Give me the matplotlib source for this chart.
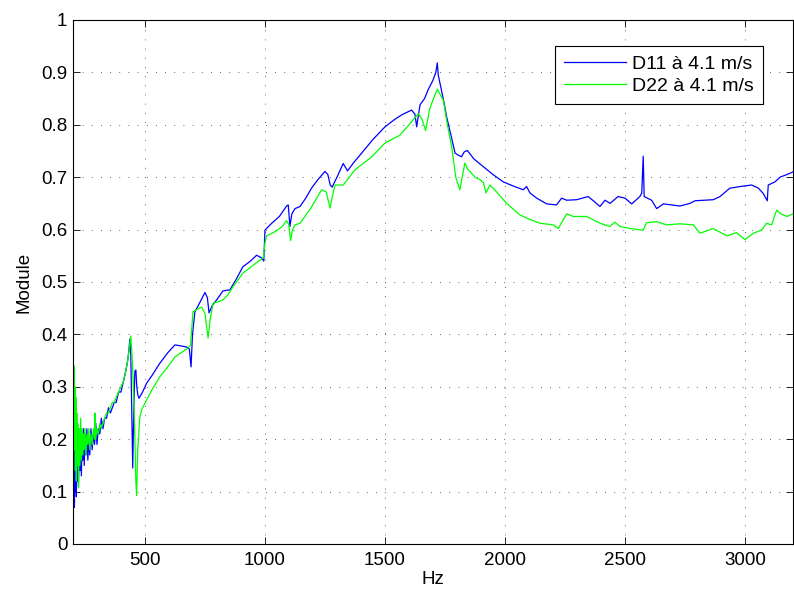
import matplotlib
matplotlib.use("Agg")
import matplotlib.pyplot as plt

plt.rcParams['font.family'] = ['Liberation Sans', 'DejaVu Sans']

# D11 at 4.1 m/s
d11_hz = [200, 202, 204, 206, 208, 210, 212, 214, 216, 218, 220, 223, 226, 229, 232, 235, 238, 241,
          244, 247, 250, 254, 258, 262, 266, 270, 275, 280, 285, 290, 295, 300, 306, 312, 318, 325,
          332, 340, 348, 356, 364, 372, 380, 390, 400, 410, 420, 428, 433, 437, 441, 445, 449, 453,
          458, 462, 466, 470, 475, 490, 507, 530, 562, 595, 625, 650, 673, 685, 692, 698, 708, 730,
          750, 760, 767, 780, 799, 825, 854, 880, 908, 940, 965, 986, 995, 1000, 1028, 1060, 1090,
          1097, 1104, 1112, 1125, 1146, 1170, 1194, 1220, 1250, 1262, 1272, 1280, 1300, 1326, 1344,
          1370, 1403, 1450, 1500, 1540, 1570, 1611, 1625, 1632, 1640, 1646, 1665, 1679, 1700, 1712,
          1718, 1722, 1729, 1745, 1757, 1775, 1792, 1805, 1819, 1830, 1843, 1870, 1910, 1950, 1993,
          2035, 2076, 2090, 2104, 2132, 2174, 2215, 2236, 2257, 2299, 2347, 2368, 2396, 2417, 2438,
          2471, 2500, 2528, 2562, 2570, 2576, 2580, 2611, 2632, 2660, 2729, 2771, 2792, 2868, 2896,
          2937, 2993, 3028, 3056, 3076, 3093, 3097, 3125, 3146, 3175, 3200]
d11_val = [0.22, 0.08, 0.19, 0.07, 0.17, 0.10, 0.21, 0.09, 0.18, 0.12, 0.20, 0.11, 0.19, 0.14, 0.22, 0.13,
           0.20, 0.16, 0.22, 0.15, 0.21, 0.17, 0.22, 0.16, 0.20, 0.17, 0.22, 0.18, 0.21, 0.19, 0.23, 0.19,
           0.22, 0.21, 0.24, 0.22, 0.24, 0.24, 0.26, 0.25, 0.26, 0.27, 0.27, 0.29, 0.29, 0.31, 0.33, 0.35,
           0.37, 0.391, 0.36, 0.25, 0.145, 0.25, 0.33, 0.332, 0.30, 0.285, 0.278, 0.29, 0.307, 0.322, 0.345,
           0.365, 0.38, 0.378, 0.376, 0.372, 0.338, 0.40, 0.443, 0.462, 0.48, 0.47, 0.441, 0.455, 0.466,
           0.483, 0.485, 0.505, 0.529, 0.54, 0.551, 0.546, 0.54, 0.599, 0.612, 0.625, 0.645, 0.647, 0.606,
           0.63, 0.64, 0.644, 0.66, 0.679, 0.695, 0.711, 0.705, 0.685, 0.681, 0.70, 0.726, 0.712, 0.728,
           0.746, 0.772, 0.796, 0.81, 0.819, 0.828, 0.82, 0.796, 0.82, 0.838, 0.85, 0.866, 0.885, 0.90,
           0.918, 0.895, 0.88, 0.845, 0.815, 0.78, 0.746, 0.742, 0.739, 0.748, 0.751, 0.735, 0.72, 0.705,
           0.691, 0.683, 0.676, 0.682, 0.67, 0.66, 0.649, 0.647, 0.66, 0.656, 0.657, 0.663, 0.655, 0.644,
           0.656, 0.65, 0.663, 0.66, 0.649, 0.663, 0.67, 0.74, 0.663, 0.656, 0.64, 0.649, 0.645, 0.65,
           0.655, 0.657, 0.663, 0.679, 0.683, 0.685, 0.679, 0.669, 0.655, 0.685, 0.691, 0.70, 0.705, 0.71]

# D22 at 4.1 m/s
d22_hz = [200, 202, 204, 206, 208, 210, 212, 214, 216, 218, 220, 223, 226, 229, 232, 235, 238, 241,
          244, 247, 250, 254, 258, 262, 266, 270, 275, 280, 285, 290, 292, 295, 300, 306, 312, 318, 325,
          332, 340, 348, 356, 364, 372, 380, 390, 400, 410, 420, 428, 434, 441, 446, 452, 458, 462,
          465, 470, 478, 486, 507, 530, 562, 595, 625, 650, 680, 690, 700, 718, 736, 750, 763, 772,
          784, 805, 825, 845, 867, 908, 940, 971, 993, 1000, 1007, 1042, 1070, 1090, 1099, 1107, 1115,
          1125, 1146, 1190, 1236, 1255, 1271, 1280, 1292, 1326, 1375, 1445, 1500, 1562, 1600, 1639,
          1655, 1669, 1687, 1708, 1718, 1743, 1760, 1778, 1795, 1812, 1822, 1833, 1845, 1854, 1875,
          1896, 1910, 1921, 1937, 1965, 2007, 2062, 2100, 2146, 2201, 2222, 2257, 2285, 2340, 2396,
          2437, 2458, 2479, 2521, 2576, 2590, 2632, 2673, 2729, 2785, 2812, 2868, 2924, 2965, 3000,
          3035, 3069, 3090, 3111, 3132, 3150, 3175, 3200]
d22_val = [0.364, 0.25, 0.34, 0.18, 0.30, 0.14, 0.28, 0.12, 0.25, 0.15, 0.23, 0.107, 0.22, 0.15, 0.24,
           0.16, 0.22, 0.17, 0.21, 0.18, 0.22, 0.17, 0.21, 0.19, 0.22, 0.18, 0.21, 0.19, 0.22, 0.20,
           0.25, 0.20, 0.22, 0.21, 0.23, 0.22, 0.23, 0.24, 0.25, 0.25, 0.26, 0.27, 0.27, 0.28, 0.29,
           0.30, 0.31, 0.33, 0.35, 0.37, 0.397, 0.36, 0.30, 0.20, 0.12, 0.093, 0.18, 0.24, 0.256,
           0.275, 0.295, 0.319, 0.338, 0.357, 0.365, 0.374, 0.38, 0.443, 0.448, 0.452, 0.44, 0.393,
           0.43, 0.46, 0.462, 0.466, 0.475, 0.491, 0.517, 0.528, 0.539, 0.546, 0.575, 0.588, 0.596,
           0.605, 0.617, 0.61, 0.579, 0.60, 0.609, 0.612, 0.64, 0.676, 0.672, 0.641, 0.662, 0.685,
           0.685, 0.714, 0.739, 0.765, 0.78, 0.80, 0.821, 0.81, 0.789, 0.831, 0.857, 0.868, 0.847,
           0.80, 0.758, 0.70, 0.676, 0.70, 0.727, 0.715, 0.711, 0.70, 0.695, 0.69, 0.67, 0.685, 0.672,
           0.65, 0.628, 0.62, 0.612, 0.609, 0.602, 0.63, 0.625, 0.625, 0.612, 0.606, 0.614, 0.606,
           0.602, 0.599, 0.613, 0.615, 0.609, 0.611, 0.609, 0.593, 0.602, 0.588, 0.594, 0.581, 0.593,
           0.599, 0.612, 0.609, 0.637, 0.63, 0.625, 0.63]

x_ticks = [500, 1000, 1500, 2000, 2500, 3000]
y_ticks = [0, 0.1, 0.2, 0.3, 0.4, 0.5, 0.6, 0.7, 0.8, 0.9, 1]
y_tick_labels = ['0', '0.1', '0.2', '0.3', '0.4', '0.5', '0.6', '0.7', '0.8', '0.9', '1']

FS = 13.5

fig = plt.figure(figsize=(7.94, 5.94), dpi=100)
ax = fig.add_axes([0.0919, 0.0842, 0.9068, 0.8822])

ax.plot(d11_hz, d11_val, color=(0, 0, 1), lw=0.9, label='D11 à 4.1 m/s')
ax.plot(d22_hz, d22_val, color=(0, 1, 0), lw=0.9, label='D22 à 4.1 m/s')

ax.set_xlim(200, 3200)
ax.set_ylim(0, 1)
ax.set_xticks(x_ticks)
ax.set_yticks(y_ticks)
ax.set_yticklabels(y_tick_labels)
ax.tick_params(direction='in', top=True, right=True, length=5, width=0.6, labelsize=FS)
ax.tick_params(axis='x', pad=6)
ax.tick_params(axis='y', pad=4)
ax.grid(True, linestyle=(0, (1, 10)), color='#333333', linewidth=0.6)
for s in ax.spines.values():
    s.set_linewidth(0.8)

ax.set_xlabel('Hz', fontsize=FS, labelpad=1)
ax.set_ylabel('Module', fontsize=FS, labelpad=6)

leg = ax.legend(loc='upper right', bbox_to_anchor=(0.958, 0.950), borderaxespad=0, fontsize=14,
                fancybox=False, framealpha=1, edgecolor='black', handlelength=3.2,
                handletextpad=0.3, borderpad=0.45, labelspacing=0.25)
leg.get_frame().set_linewidth(0.8)

fig.savefig('out.png', dpi=100)
